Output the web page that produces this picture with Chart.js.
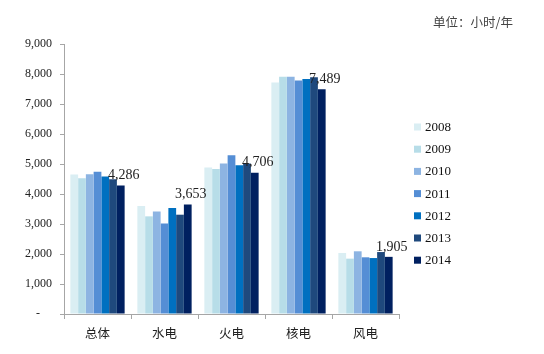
<!DOCTYPE html>
<html>
<head>
<meta charset="utf-8">
<script src="https://cdn.jsdelivr.net/npm/chart.js@4.4.1/dist/chart.umd.min.js"></script>
<style>
  html, body { margin: 0; padding: 0; background: #fff; }
  #wrap { width: 544px; height: 354px; position: relative; }
</style>
</head>
<body>
<div id="wrap"><canvas id="c" width="544" height="354"></canvas></div>
<script>
const categories = ['总体', '水电', '火电', '核电', '风电'];
const years = ['2008', '2009', '2010', '2011', '2012', '2013', '2014'];
const s2008 = [4650, 3600, 4880, 7720, 2035];
const s2009 = [4525, 3255, 4835, 7910, 1845];
const s2010 = [4655, 3420, 5020, 7910, 2090];
const s2011 = [4745, 3020, 5290, 7780, 1890];
const s2012 = [4580, 3535, 4955, 7835, 1865];
const s2013 = [4490, 3310, 5020, 7890, 2065];
const s2014 = [4286, 3653, 4706, 7489, 1905];
const yTicks = [0, 1000, 2000, 3000, 4000, 5000, 6000, 7000, 8000, 9000];
const colors = ['#DAEEF3', '#B7DDE8', '#8DB4E2', '#558ED5', '#0070C0', '#1F497D', '#002060'];
const unitText = '单位：小时/年';

const seriesList = [s2008, s2009, s2010, s2011, s2012, s2013, s2014];
const serif = "'Liberation Serif', 'DejaVu Serif', serif";
const cjk = "'Noto Sans CJK SC', 'Noto Sans', sans-serif";

const extras = {
  id: 'extras',
  afterDatasetsDraw(chart) {
    const ctx = chart.ctx;
    ctx.save();
    const lastIdx = chart.data.datasets.length - 1;
    const meta = chart.getDatasetMeta(lastIdx);
    ctx.font = '14px ' + serif;
    ctx.fillStyle = '#222';
    ctx.textAlign = 'center';
    ctx.textBaseline = 'bottom';
    meta.data.forEach((bar, i) => {
      const v = chart.data.datasets[lastIdx].data[i];
      ctx.fillText(v.toLocaleString('en-US'), bar.x + 3, bar.y - 3);
    });
    ctx.textAlign = 'left';
    ctx.textBaseline = 'middle';
    ctx.font = '13px ' + serif;
    chart.data.datasets.forEach((ds, i) => {
      const y = 127 + i * 22.2;
      ctx.fillStyle = ds.backgroundColor;
      ctx.fillRect(414, y - 3.5, 7, 7);
      ctx.fillStyle = '#111';
      ctx.fillText(ds.label, 425, y + 0.5);
    });
    ctx.font = '12.5px ' + cjk;
    ctx.fillStyle = '#444';
    ctx.textAlign = 'left';
    ctx.fillText(unitText, 433, 22);
    ctx.restore();
  }
};

new Chart(document.getElementById('c'), {
  type: 'bar',
  data: {
    labels: categories,
    datasets: years.map((y, i) => ({
      label: y,
      data: seriesList[i],
      backgroundColor: colors[i],
      borderWidth: 0,
      barPercentage: 1.0,
      categoryPercentage: 0.81
    }))
  },
  options: {
    responsive: false,
    animation: false,
    layout: { padding: { left: 0, top: 44, right: 145, bottom: 0 } },
    plugins: { legend: { display: false }, tooltip: { enabled: false } },
    scales: {
      x: {
        grid: { display: true, drawOnChartArea: false, offset: true, tickLength: 5, color: '#A6A6A6' },
        border: { display: true, color: '#A6A6A6' },
        ticks: { font: { family: cjk, size: 12.5 }, color: '#222', padding: 7 },
        afterFit(s) { s.height = 40; }
      },
      y: {
        min: 0, max: 9000,
        afterBuildTicks(s) { s.ticks = yTicks.map(v => ({ value: v })); },
        grid: { display: true, drawOnChartArea: false, tickLength: 4, color: '#A6A6A6' },
        border: { display: true, color: '#A6A6A6' },
        ticks: {
          font: { family: serif, size: 12 }, color: '#222', padding: 8,
          callback: v => v === 0 ? '-    ' : v.toLocaleString('en-US')
        },
        afterFit(s) { s.width = 64; }
      }
    }
  },
  plugins: [extras]
});
</script>
</body>
</html>
